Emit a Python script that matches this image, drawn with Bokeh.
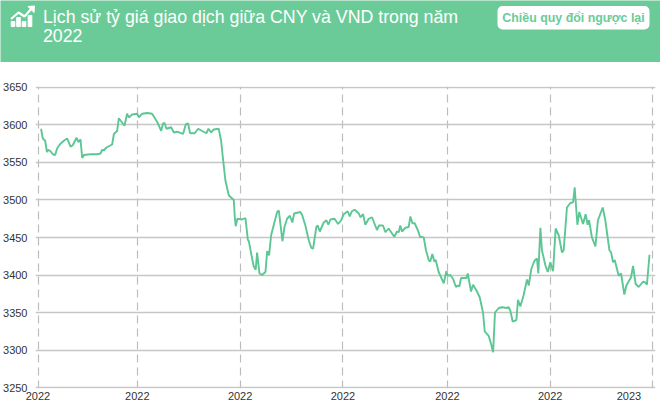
from bokeh.plotting import figure
from bokeh.layouts import column
from bokeh.models import FixedTicker, Range1d
from bokeh.core.properties import value
from bokeh.embed import file_html
from bokeh.resources import INLINE

# Days since the start of the series
days = [1.8,2.6,3.2,4.2,5.2,5.9,7.3,8.7,10,11.2,13.1,15.1,17,19,20.3,22.5,23.6,24.8,25.8,26.8,30.6,34.5,36.5,37.5,38.4,40,43.3,44.3,46.2,47.2,48.5,50.5,52,53,55,57.9,58.9,60.8,63.7,66.6,69.6,71.9,73,73.8,75,77.7,79.3,81.2,84.7,86.3,87.6,88.8,91.5,93.5,95.8,98.3,99.5,101.1,102.6,105.5,106.9,108.1,109.4,111.4,114.3,
114.9,115.4,116.4,119.1,121.1,121.7,122.5,123.1,125,126,127.1,127.9,129.3,130.8,132.8,133.8,134.9,136.1,138,139.6,140.6,142.7,143.9,145.4,147,148.5,149.5,153.2,154.2,156.1,158.1,159.6,160.6,162.5,163.3,164.5,166.8,168.4,169.5,170.7,
173.1,175.2,177,178.5,180.8,182,183.2,184.9,187.3,188.2,189.8,191.1,193.1,195,197.9,199.1,201.4,202.8,204.7,208,209.6,210.6,211.5,212.5,214.5,216.4,217.4,218.6,219.9,221.7,223.2,224.2,225.2,226.5,228.1,229,230.2,231.4,232.2,233.9,236.9,238.4,239.2,240.7,242.3,244,245,246,247,250.1,250.9,252.8,254,256.3,257.9,259.8,260.8,263.1,264.5,265.7,266.8,269,271,273.5,274.8,275.8,277.1,279.3,280.2,281.6,283.5,285.5,286.5,288,289.8,291.3,292.1,293.3,294.2,296.2,297.6,299.1,300.7,302.2,304,305.9,306.9,308.8,310.8,312.4,313.3,314.9,316,318.2,319.7,320.9,321.7,323.4,325.4,326.9,329.7,331.2,333.6,334.6,335.7,336.7,339,340.4,342.3,343.5,346.2,347.4,348.9,350.7,353.2,354.5,355.5,357]

# CNY/VND rate
rate = [3595,3584,3581,3579,3564,3567,3565,3561,3560,3569,3575,3579,3582,3571,3573,3583,3577,3581,3556,3560,3561,3561,3562,3567,3566,3570,3574,3588,3592,3609,3605,3599,3615,3610,3614,3615,3610,3615,3616,3615,3604,3592,3602,3603,3595,3597,3590,3591,3588,3601,3602,3589,3589,3595,3592,3589,3595,3590,3594,3595,3579,3553,3526,3506,3500,
3477,3465,3475,3474,3476,3464,3447,3445,3422,3411,3407,3430,3402,3400,3404,3432,3426,3453,3470,3484,3486,3445,3464,3475,3479,3470,3482,3484,3480,3466,3446,3436,3435,3464,3466,3458,3470,3473,3467,3474,
3475,3468,3473,3481,3485,3478,3485,3487,3482,3477,3481,3467,3475,3477,3460,3466,3466,3457,3462,3451,3458,3457,3466,3458,3463,3464,3478,3469,3469,3460,3450,3451,3450,3433,3420,3418,3428,3418,3420,3404,3389,3405,3399,3400,3395,3384,3386,3385,3396,3396,3402,3378,3387,3378,3370,3350,3325,3319,3308,3297,3350,3356,3357,3356,3357,3352,3338,3340,3367,3358,3373,3394,3386,3408,3419,3422,3402,3463,3433,3413,3404,3417,3405,3462,3453,3430,3433,3490,3496,3497,3517,3467,3484,3468,3481,3467,3473,3450,3438,3473,3490,3473,3433,3430,3417,3420,3399,3402,3374,3386,3397,3412,3388,3384,3391,3390,3387,3427]

y_ticks = [3250,3300,3350,3400,3450,3500,3550,3600,3650]
grid_days = [0,58,118,178,239,299,359]
label_days = [0,58,118,178,239,299,345]
label_text = ["2022","2022","2022","2022","2022","2022","2023"]

GREEN = "#6bcb98"
LINE = "#5cc794"
title_lines = ["Lịch sử tỷ giá giao dịch giữa CNY và VND trong năm", "2022"]
button_text = "Chiều quy đổi ngược lại"

# Header band
h = figure(width=660, height=62, x_range=Range1d(0, 660), y_range=Range1d(62, 0),
           output_backend="svg", toolbar_location=None, min_border=0, frame_align=False,
           background_fill_color=GREEN, border_fill_color=GREEN, outline_line_color=None)
h.xaxis.visible = False
h.yaxis.visible = False
h.grid.visible = False
h.text([42.5, 42.5], [16.5, 34.5], text=title_lines, text_color="white",
       text_font=value("Liberation Sans"), text_font_size="17.75px",
       text_baseline="middle", text_align="left")
h.vbar(x=[12.5, 18, 23.5, 29.5], width=3.6, bottom=[26, 26, 26, 26], top=[21, 17, 21, 15], color="white")
h.line([10.5, 18, 24, 31.5], [18.5, 12, 16, 7.5], line_color="white", line_width=2.2)
h.patch([27.5, 34, 33.5], [6, 5.5, 12], color="white")
h.quad(left=[497], right=[649], top=[5.5], bottom=[29], fill_color="white", line_color=None,
       border_radius=5)
h.text([573], [17], text=[button_text], text_color=GREEN,
       text_font=value("Liberation Sans"), text_font_style="bold", text_font_size="12.4px",
       text_baseline="middle", text_align="center")

# Chart
p = figure(width=660, height=342, output_backend="svg", toolbar_location=None, frame_align=False,
           x_range=Range1d(-1.46, 360.5), y_range=Range1d(3248.7, 3651.3),
           min_border_left=35, min_border_right=5, min_border_top=24, min_border_bottom=16,
           outline_line_color=None, background_fill_color="white", border_fill_color="white")

p.xaxis.ticker = FixedTicker(ticks=label_days)
p.xaxis.major_label_overrides = {d: t for d, t in zip(label_days, label_text)}
p.yaxis.ticker = FixedTicker(ticks=y_ticks)

p.xgrid.ticker = FixedTicker(ticks=grid_days)
p.xgrid.grid_line_color = "#bdbdbd"
p.xgrid.grid_line_width = 1.2
p.xgrid.grid_line_dash = "8 5"
p.ygrid.ticker = FixedTicker(ticks=y_ticks)
p.ygrid.grid_line_color = "#c6c6c6"
p.ygrid.grid_line_width = 1.6

for ax in (p.xaxis[0], p.yaxis[0]):
    ax.axis_line_color = None
    ax.major_tick_line_color = None
    ax.minor_tick_line_color = None
    ax.major_tick_out = 0
    ax.major_tick_in = 0
    ax.minor_tick_out = 0
    ax.minor_tick_in = 0
    ax.major_label_text_font = "Liberation Sans"
    ax.major_label_text_font_size = "11px"
    ax.major_label_text_color = "#333333"
p.yaxis.major_label_standoff = 8
p.xaxis.major_label_standoff = 3

p.line(days, rate, line_color=LINE, line_width=1.9)

page = column(h, p, spacing=0, width=660, height=404)
open("out.html", "w").write(file_html(page, INLINE))
